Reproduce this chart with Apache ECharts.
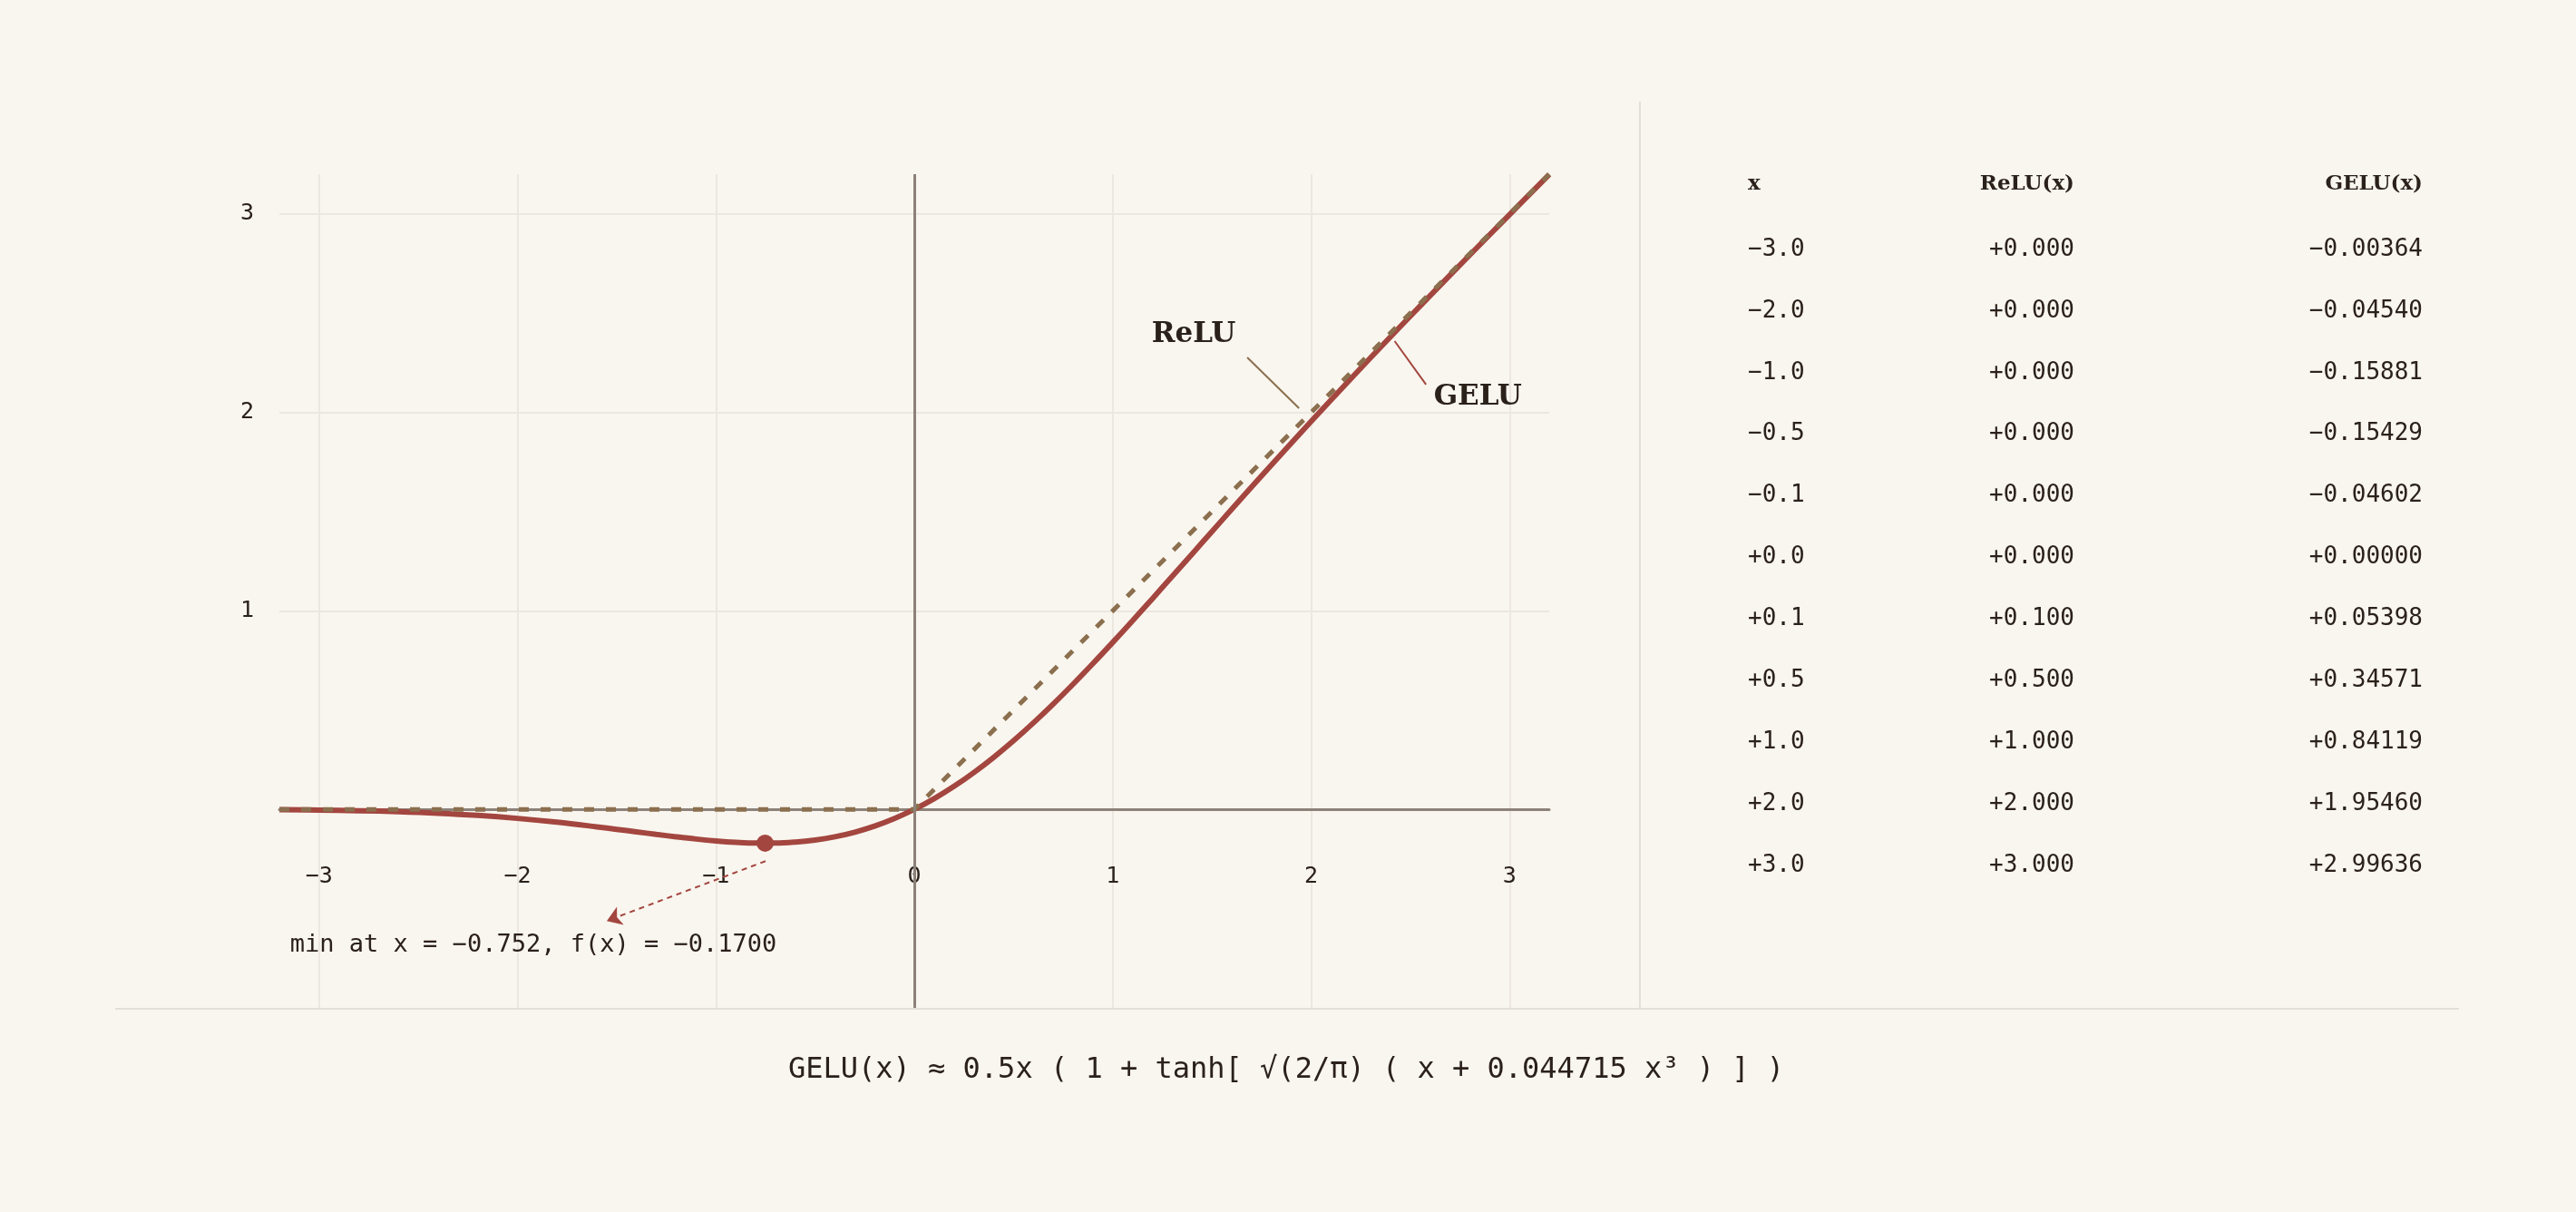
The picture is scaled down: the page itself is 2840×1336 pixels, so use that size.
<!DOCTYPE html>
<html>
<head>
<meta charset="utf-8">
<script src="https://cdn.jsdelivr.net/npm/echarts@6/dist/echarts.min.js"></script>
<style>
html,body{margin:0;padding:0;background:#f9f6ef;}
#c{width:2840px;height:1336px;}
</style>
</head>
<body>
<div id="c"></div>
<script>
// ---- data ----
const geluX = [-3.2,-3.0,-2.8,-2.6,-2.4,-2.2,-2.0,-1.8,-1.6,-1.5,-1.4,-1.3,-1.2,-1.1,-1.0,-0.9,-0.8,-0.7,-0.6,-0.5,-0.4,-0.3,-0.2,-0.1,0,0.1,0.2,0.3,0.4,0.5,0.6,0.7,0.8,0.9,1.0,1.1,1.2,1.3,1.4,1.5,1.6,1.8,2.0,2.2,2.4,2.6,2.8,3.0,3.2];
const geluY = [-0.00187,-0.00364,-0.00669,-0.01166,-0.01929,-0.03032,-0.04540,-0.06472,-0.08787,-0.10043,-0.11330,-0.12607,-0.13829,-0.14943,-0.15881,-0.16578,-0.16957,-0.16943,-0.16459,-0.15429,-0.13784,-0.11463,-0.08415,-0.04602,0,0.05398,0.11585,0.18537,0.26216,0.34571,0.43541,0.53057,0.63043,0.73422,0.84119,0.95057,1.06171,1.17393,1.28670,1.39957,1.51213,1.73528,1.95460,2.16968,2.38071,2.58834,2.79331,2.99636,3.19813];
const reluX = [-3.2, 0, 3.2];
const reluY = [0, 0, 3.2];
const minPoint = [-0.752, -0.1700];
const tableX = [-3.0,-2.0,-1.0,-0.5,-0.1,0.0,0.1,0.5,1.0,2.0,3.0];
const tableRelu = [0,0,0,0,0,0,0.1,0.5,1,2,3];
const tableGelu = [-0.00364,-0.04540,-0.15881,-0.15429,-0.04602,0.00000,0.05398,0.34571,0.84119,1.95460,2.99636];
const tableHeaders = ['x','ReLU(x)','GELU(x)'];
const minLabel = 'min at x = \u22120.752, f(x) = \u22120.1700';
const formula = 'GELU(x) \u2248 0.5x ( 1 + tanh[ \u221A(2/\u03C0) ( x + 0.044715 x\u00B3 ) ] )';
// annotation anchors (data coordinates)
const notes = [
  {text:'ReLU', at:[1.408, 2.391], kind:'serif', align:'center'},
  {text:'GELU', at:[2.840, 2.076], kind:'serif', align:'center'},
  {text:minLabel, at:[-3.146, -0.686], kind:'mono', align:'left'}
];

// ---- styles ----
const BG = '#f9f6ef', INK = '#2b211b', RED = '#a3463f', TAN = '#8b6f4e', AXIS = '#8c8279', GRIDC = '#ece7df', SEP = '#e4dfd7';
const MONO = '"DejaVu Sans Mono", monospace';
const SERIF = '"DejaVu Serif", serif';

function signed(v, d){ const s = Math.abs(v).toFixed(d); return (v < 0 ? '\u2212' : '+') + s; }

const chart = echarts.init(document.getElementById('c'));

const GRID = {left:308, top:192, width:1400, height:919};
const yMin = -1, yMax = 3.2;
const zeroOffset = -GRID.height * (0 - yMin) / (yMax - yMin);

const graphics = [];
graphics.push({type:'line', shape:{x1:127,y1:1112,x2:2711,y2:1112}, style:{stroke:SEP, lineWidth:2}, z:0});
graphics.push({type:'line', shape:{x1:1808,y1:112,x2:1808,y2:1112}, style:{stroke:SEP, lineWidth:2}, z:0});
const colX = [1927, 2287, 2671];
const colAlign = ['left','right','right'];
tableHeaders.forEach((h,i)=>{
  graphics.push({type:'text', x:colX[i], y:203, style:{text:h, font:'bold 23px '+SERIF, fill:INK, align:colAlign[i], verticalAlign:'middle'}});
});
tableX.forEach((xv,r)=>{
  const y = 275 + r*67.9;
  const cells = [signed(xv,1), signed(tableRelu[r],3), signed(tableGelu[r],5)];
  cells.forEach((t,i)=>{
    graphics.push({type:'text', x:colX[i], y:y, style:{text:t, font:'26px '+MONO, fill:INK, align:colAlign[i], verticalAlign:'middle'}});
  });
});
graphics.push({type:'text', x:1418, y:1180, style:{text:formula, font:'32px '+MONO, fill:INK, align:'center', verticalAlign:'middle'}});

const option = {
  backgroundColor: BG,
  animation: false,
  grid: Object.assign({containLabel:false}, GRID),
  xAxis: {
    type:'value', min:-3.2, max:3.2, minInterval:1, maxInterval:1,
    position:'bottom', offset: zeroOffset,
    axisLine:{show:true, onZero:false, lineStyle:{color:AXIS, width:3}},
    axisTick:{show:false},
    axisLabel:{
      margin:62, color:INK, fontFamily:MONO, fontSize:25,
      showMinLabel:false, showMaxLabel:false,
      formatter: v => Number.isInteger(v) ? String(v).replace('-', '\u2212') : ''
    },
    splitLine:{show:true, showMinLine:false, showMaxLine:false, lineStyle:{color:GRIDC, width:2}}
  },
  yAxis: {
    type:'value', min:yMin, max:yMax, interval:1,
    axisLine:{show:false, onZero:false},
    axisTick:{show:false},
    axisLabel:{
      margin:28, color:INK, fontFamily:MONO, fontSize:25,
      formatter: v => (Number.isInteger(v) && v >= 1) ? String(v) : ''
    },
    splitLine:{show:true, showMinLine:false, showMaxLine:false, lineStyle:{color:GRIDC, width:2}}
  },
  series: [
    {
      name:'axes', type:'line', data:[[0,0]], showSymbol:false, symbolSize:0, lineStyle:{width:0}, z:1, silent:true,
      markLine:{silent:true, symbol:['none','none'], label:{show:false},
        lineStyle:{color:AXIS, width:3, type:'solid'},
        data:[{xAxis:0}]}
    },
    {
      name:'GELU', type:'line', data: geluX.map((x,i)=>[x, geluY[i]]),
      smooth:0.4, showSymbol:false, lineStyle:{color:RED, width:6}, z:3, silent:true
    },
    {
      name:'ReLU', type:'line', data: reluX.map((x,i)=>[x, reluY[i]]),
      showSymbol:false, lineStyle:{color:TAN, width:5, type:[11,13], cap:'butt'}, z:4, silent:true
    },
    {
      name:'min', type:'scatter', data:[minPoint], symbolSize:19, itemStyle:{color:RED, opacity:1}, z:5, silent:true
    },
    {
      name:'leaders', type:'line', data:[], z:6, silent:true,
      markLine:{silent:true, symbol:['none','none'], label:{show:false},
        data:[
          [{coord:[1.678,2.277], lineStyle:{color:TAN, width:2, type:'solid'}}, {coord:[1.939,2.021]}],
          [{coord:[2.421,2.359], lineStyle:{color:RED, width:2, type:'solid'}}, {coord:[2.579,2.140]}],
          [{coord:[-0.750,-0.261], symbol:'none', lineStyle:{color:RED, width:2, type:[6,5]}}, {coord:[-1.550,-0.562], symbol:'arrow', symbolSize:16}]
        ]}
    }
  ],
  graphic: graphics
};
chart.setOption(option);

// annotation texts placed at data coordinates
const noteGraphics = notes.map(n => {
  const p = chart.convertToPixel({gridIndex:0}, n.at);
  const font = n.kind === 'serif' ? 'bold 31px ' + SERIF : '27px ' + MONO;
  return {type:'text', x:p[0], y:p[1], z:10, style:{text:n.text, font:font, fill:INK, align:n.align, verticalAlign:'middle'}};
});
chart.setOption({graphic: graphics.concat(noteGraphics)});
</script>
</body>
</html>
